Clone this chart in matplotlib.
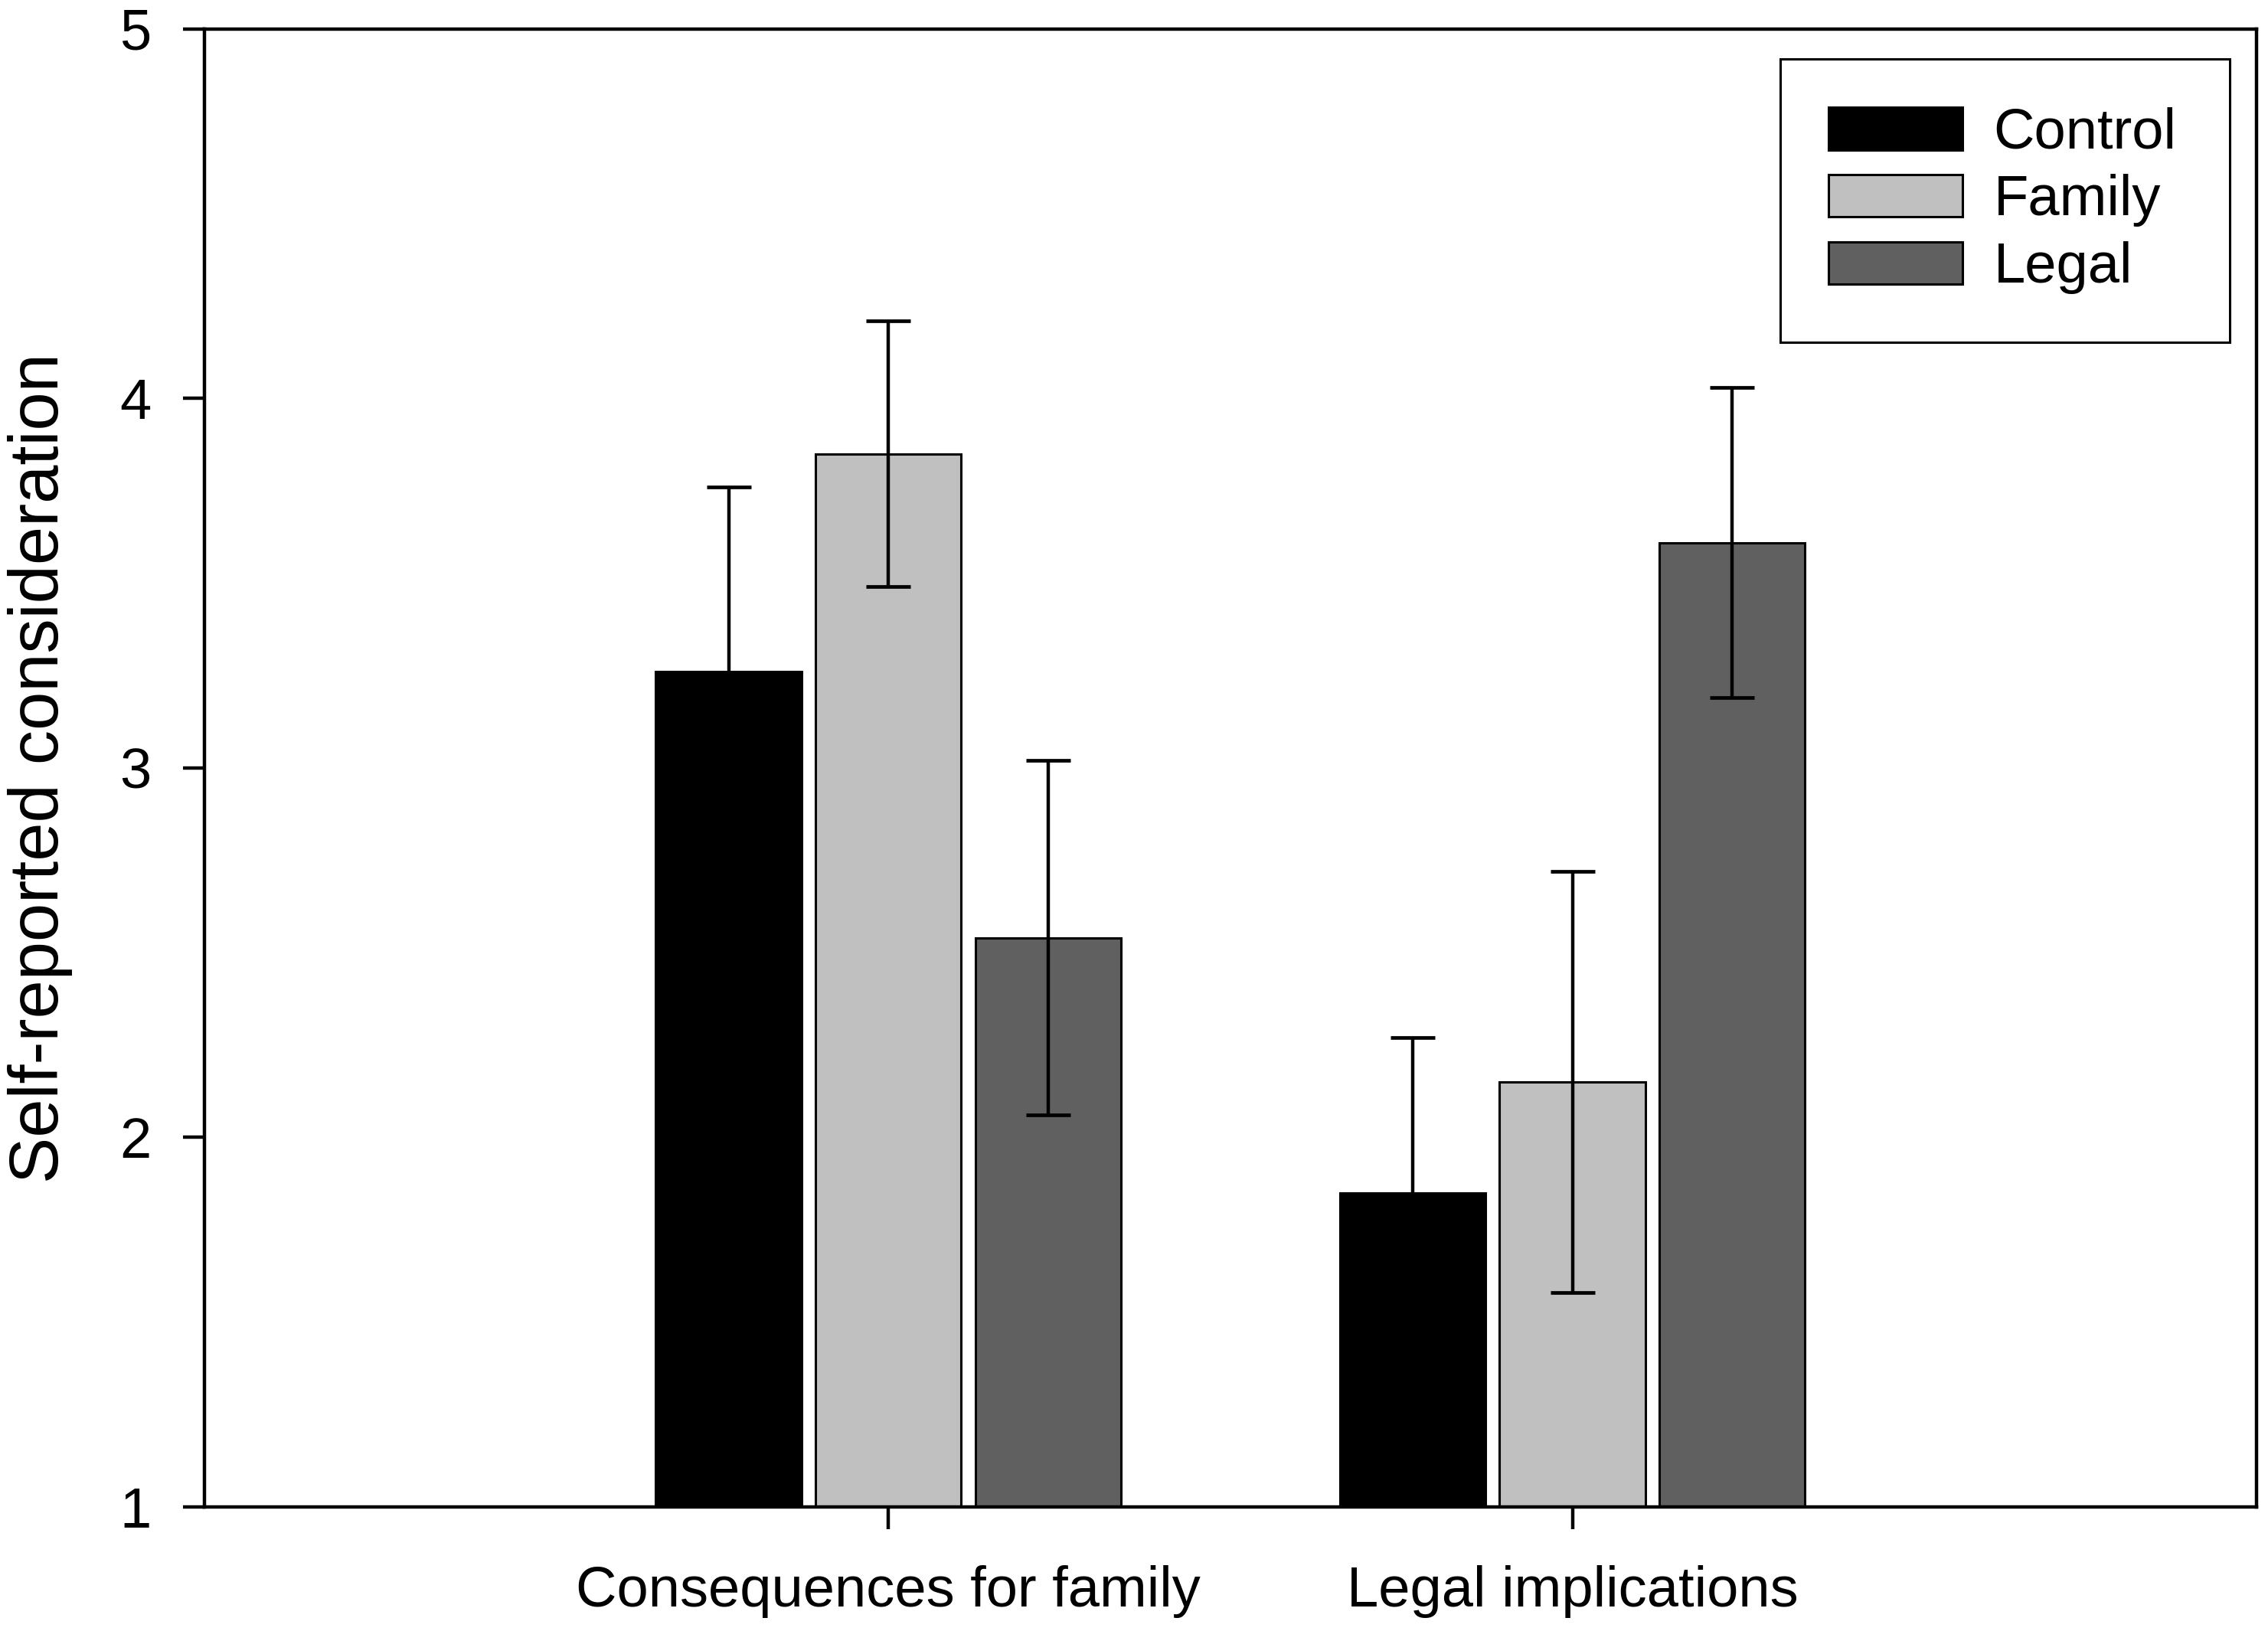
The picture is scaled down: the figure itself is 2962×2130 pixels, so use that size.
import numpy as np
import matplotlib.pyplot as plt

plt.rcParams['font.family'] = ['Liberation Sans', 'DejaVu Sans']

# Data (means and error-bar half-widths)
categories = ['Consequences for family', 'Legal implications']
groups = ['Control', 'Family', 'Legal']
control_means = [3.26, 1.85]
control_errs = [0.50, 0.42]
family_means = [3.85, 2.15]
family_errs = [0.36, 0.57]
legal_means = [2.54, 3.61]
legal_errs = [0.48, 0.42]
y_ticks = [1, 2, 3, 4, 5]

colors = ['#000000', '#c0c0c0', '#606060']
means = [control_means, family_means, legal_means]
errs = [control_errs, family_errs, legal_errs]

fig = plt.figure(figsize=(14.81, 10.65), dpi=200)
ax = fig.add_axes([0.0901, 0.0761, 0.9048, 0.9061])

x = np.arange(1, len(categories) + 1)
step = 0.2335
width = 0.213
for i, (name, col) in enumerate(zip(groups, colors)):
    xs = x + (i - 1) * step
    ax.bar(xs, means[i], width, color=col, edgecolor='black', linewidth=1.1,
           label=name, zorder=2)
    ax.errorbar(xs, means[i], yerr=errs[i], fmt='none', ecolor='black',
                elinewidth=1.6, capsize=10.3, capthick=1.7, zorder=3)

ax.set_xlim(0, 3)
ax.set_ylim(1, 5)
ax.set_yticks(y_ticks)
ax.set_yticklabels([str(t) for t in y_ticks])
ax.set_xticks(x)
ax.set_xticklabels(categories)

for sp in ax.spines.values():
    sp.set_linewidth(1.6)
ax.tick_params(axis='y', direction='out', length=10, width=1.6, pad=15,
               labelsize=26.7, right=False)
ax.tick_params(axis='x', direction='out', length=10.5, width=1.6, pad=17,
               labelsize=26.7, top=False)

ax.set_ylabel('Self-reported consideration', fontsize=32.5)
ax.yaxis.set_label_coords(-0.064, 0.5)

leg = ax.legend(loc='upper left', bbox_to_anchor=(0.7848, 0.5, 0.1982, 0.4639),
                bbox_transform=fig.transFigure, mode='expand', borderaxespad=0,
                fontsize=26.7, handlelength=2.36, handleheight=0.77,
                handletextpad=0.55, labelspacing=0.25, borderpad=0.85,
                fancybox=False, framealpha=1)
leg.get_frame().set_edgecolor('black')
leg.get_frame().set_linewidth(1.1)

fig.savefig('out.png', dpi=200)
